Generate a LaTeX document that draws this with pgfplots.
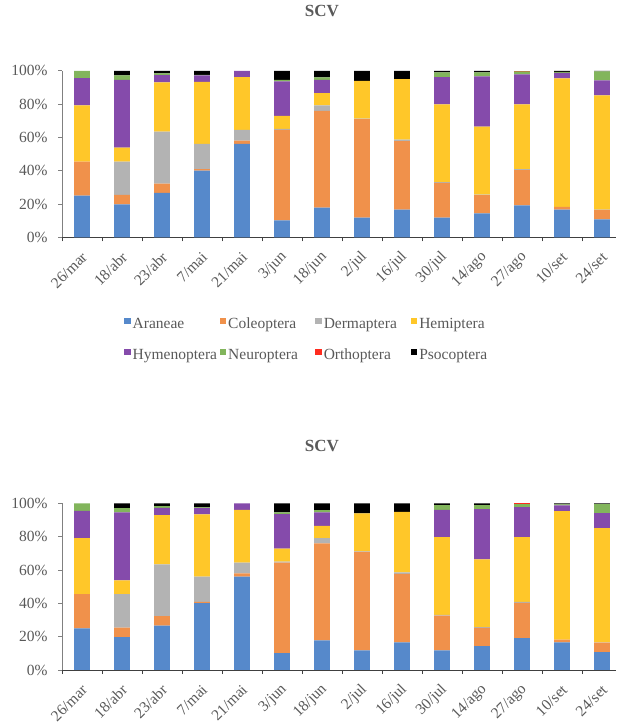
\documentclass[border=0pt]{standalone}
\usepackage{pgfplots}
\usepackage{pgfplotstable}
\pgfplotsset{compat=1.18}
\usepackage{fontspec}
\setmainfont{Liberation Serif}
\definecolor{cAra}{HTML}{5689CB}
\definecolor{cCol}{HTML}{F0914B}
\definecolor{cDer}{HTML}{B3B3B3}
\definecolor{cHem}{HTML}{FFC729}
\definecolor{cHym}{HTML}{854BAB}
\definecolor{cNeu}{HTML}{82B55C}
\definecolor{cOrt}{HTML}{FF2B1E}
\definecolor{cPso}{HTML}{000000}
\definecolor{txt}{HTML}{595959}
\pgfplotstableread{
x Ara Col Der Hem Hym Neu Ort Pso
0 25.0 20.5 0.0 33.7 16.4 4.4 0.0 0.0
1 19.8 5.7 20.0 8.4 40.7 2.6 0.0 2.8
2 26.7 5.6 31.2 29.5 4.4 1.0 0.0 1.6
3 40.1 0.8 15.2 37.3 3.8 0.4 0.0 2.4
4 56.1 2.0 6.4 31.7 3.8 0.0 0.0 0.0
5 10.2 54.3 0.6 7.8 20.7 1.0 0.0 5.4
6 17.8 58.2 3.2 7.4 8.0 1.4 0.0 4.0
7 11.8 59.1 0.4 22.7 0.0 0.0 0.0 6.0
8 16.6 41.1 1.0 36.3 0.0 0.0 0.0 5.0
9 11.8 20.9 0.4 46.7 16.4 2.8 0.0 1.0
10 14.4 10.9 0.4 40.8 30.1 2.4 0.0 1.0
11 19.2 21.1 0.6 38.9 18.0 1.8 0.4 0.0
12 16.6 1.6 0.0 77.2 3.4 0.6 0.0 0.6
13 10.8 5.6 0.2 68.6 9.0 5.4 0.0 0.4
}\data
\pgfplotsset{
  scv/.style={
    scale only axis, width=554pt, height=166.5pt,
    xmin=-0.5, xmax=13.35, ymin=0, ymax=100,
    ybar stacked, bar width=15.7pt,
    axis x line*=bottom, axis y line*=left,
    x axis line style={-, draw=black!75, line width=0.8pt},
    y axis line style={-, draw=black!50, line width=0.8pt},
    xtick={-0.5,0.5,...,12.5},
    xticklabels={26/mar,18/abr,23/abr,7/mai,21/mai,3/jun,18/jun,2/jul,16/jul,30/jul,14/ago,27/ago,10/set,24/set},
    ytick={0,20,...,100},
    yticklabels={0\%,20\%,40\%,60\%,80\%,100\%},
    tick align=outside, major tick length=4pt,
    x tick style={draw=black!75, line width=0.8pt},
    y tick style={draw=black!50, line width=0.8pt},
    tick label style={font=\fontsize{15.5}{18}\selectfont, text=txt},
    xticklabel style={xshift=25pt, yshift=-11pt, rotate=45, anchor=east},
    yticklabel style={xshift=-7pt},
    title style={font=\fontsize{17}{20}\selectfont\bfseries, text=txt, anchor=center},
    every axis plot/.append style={draw=none},
    legend image code/.code={\fill[##1] (0pt,-1pt) rectangle (6.5pt,5.5pt);},
  }
}
\newcommand{\plotall}{%
  \addplot+[fill=cAra] table[x=x,y=Ara]{\data};
  \addplot+[fill=cCol] table[x=x,y=Col]{\data};
  \addplot+[fill=cDer] table[x=x,y=Der]{\data};
  \addplot+[fill=cHem] table[x=x,y=Hem]{\data};
  \addplot+[fill=cHym] table[x=x,y=Hym]{\data};
  \addplot+[fill=cNeu] table[x=x,y=Neu]{\data};
  \addplot+[fill=cOrt] table[x=x,y=Ort]{\data};
  \addplot+[fill=cPso] table[x=x,y=Pso]{\data};
}
\newcommand{\lt}[1]{\makebox[85pt][l]{\strut #1}}
\begin{document}
\begin{tikzpicture}
\useasboundingbox (0,0) rectangle (617pt,722pt);
\begin{axis}[scv, at={(62pt,484.7pt)}, anchor=south west,
  title={SCV}, title style={at={(0.469,1.325)}},
  legend columns=4,
  legend style={draw=none, fill=none, inner sep=0pt, at={(0.112,-0.46)}, anchor=north west,
    font=\fontsize{15.5}{18}\selectfont, text=txt, row sep=13pt,
    /tikz/every even column/.append style={column sep=0pt}},
  legend cell align=left]
\plotall
\legend{\lt{Araneae},\lt{Coleoptera},\lt{Dermaptera},\lt{Hemiptera},\lt{Hymenoptera},\lt{Neuroptera},\lt{Orthoptera},\lt{Psocoptera}}
\end{axis}
\begin{axis}[scv, at={(62pt,52pt)}, anchor=south west,
  title={SCV}, title style={at={(0.469,1.308)}}]
\plotall
\end{axis}
\end{tikzpicture}
\end{document}
